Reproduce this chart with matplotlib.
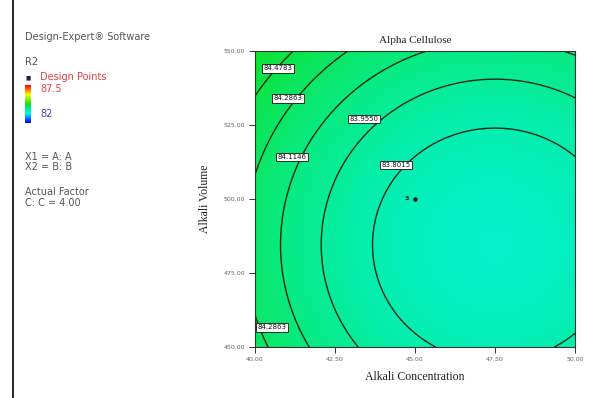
import numpy as np
import matplotlib.pyplot as plt
from matplotlib.colors import LinearSegmentedColormap

# Factor ranges (A: Alkali Concentration, B: Alkali Volume)
a_range = [40.0, 50.0]
b_range = [450.0, 550.0]
x_ticks = [40.0, 42.5, 45.0, 47.5, 50.0]
y_ticks = [450.0, 475.0, 500.0, 525.0, 550.0]

# Fitted quadratic response for alpha cellulose (C held at 4.00)
r_min = 83.65
a_opt, b_opt = 47.5, 484.5
coef_a = 0.010343
coef_b = 9.734e-5

contour_levels = [83.8015, 83.9550, 84.1146, 84.2863, 84.4783]
label_points = [(40.72, 544.1), (41.03, 534.0), (43.41, 527.0),
                (41.16, 514.2), (44.41, 511.5), (40.52, 456.6)]

design_point = (45.0, 500.0)
design_count = "3"

legend_low, legend_high = 82.0, 87.5

# Design-Expert style blue -> cyan -> green -> yellow -> red
de_cmap = LinearSegmentedColormap.from_list(
    "de", ["#0000ff", "#00f5f0", "#10e020", "#ffff00", "#ff0000"])

A, B = np.meshgrid(np.linspace(*a_range, 300), np.linspace(*b_range, 300))
R = r_min + coef_a * (A - a_opt) ** 2 + coef_b * (B - b_opt) ** 2

fig = plt.figure(figsize=(5.93, 3.98), dpi=100)
ax = fig.add_axes([255 / 593, 51 / 398, 320 / 593, 296 / 398])

ax.imshow(R, origin='lower', aspect='auto', cmap=de_cmap,
          vmin=legend_low, vmax=legend_high,
          extent=[a_range[0], a_range[1], b_range[0], b_range[1]])
cs = ax.contour(A, B, R, levels=contour_levels, colors='#0a2a12', linewidths=1.0)
labels = ax.clabel(cs, fmt='%.4f', fontsize=5, manual=label_points, inline=False)
for t, pos in zip(labels, label_points):
    t.set_position(pos)
    t.set_color('#111111')
    t.set_rotation(0)
    t.set_bbox(dict(boxstyle='square,pad=0.2', fc='white', ec='#111111', lw=0.6))

ax.plot(*design_point, 'o', color='#111111', ms=2.2)
ax.annotate(design_count, design_point, xytext=(-6, 0), textcoords='offset points',
            fontsize=4.5, fontweight='bold', color='#111111', va='center', ha='center')

ax.set_xlim(a_range)
ax.set_ylim(b_range)
ax.set_xticks(x_ticks)
ax.set_yticks(y_ticks)
ax.set_xticklabels([f'{v:.2f}' for v in x_ticks])
ax.set_yticklabels([f'{v:.2f}' for v in y_ticks])
ax.tick_params(direction='out', length=4, width=0.7, labelsize=4.5, colors='#333333',
               labelcolor='#666666', pad=3)
for s in ax.spines.values():
    s.set_color('#333333')
    s.set_linewidth(0.8)

serif = 'Liberation Serif'
ax.set_title('Alpha Cellulose', family=serif, fontsize=8, pad=6, color='#222222')
ax.set_xlabel('Alkali Concentration', family=serif, fontsize=8.5, labelpad=7, color='#222222')
ax.set_ylabel('Alkali Volume', family=serif, fontsize=8.5, labelpad=9, color='#222222')

# Left-hand information panel
grey = '#555555'
fs = 7


def info(px, py, s, color=grey):
    fig.text(px / 593, 1 - py / 398, s, fontsize=fs, color=color, va='center')


info(25, 37, 'Design-Expert® Software')
info(25, 62, 'R2')
fig.text(26 / 593, 1 - 78 / 398, '■', fontsize=4, color='#222244', va='center')
info(40, 77, 'Design Points', '#e04040')
info(40, 89, f'{legend_high:g}', '#e04040')
info(40, 114, f'{legend_low:g}', '#4040c0')

cax = fig.add_axes([25 / 593, 1 - 123 / 398, 6 / 593, 38 / 398])
cax.imshow(np.linspace(0, 1, 100)[:, None], origin='lower', aspect='auto', cmap=de_cmap)
cax.set_xticks([])
cax.set_yticks([])
for s in cax.spines.values():
    s.set_visible(False)

info(25, 157, 'X1 = A: A')
info(25, 167, 'X2 = B: B')
info(25, 192, 'Actual Factor')
info(25, 203, 'C: C = 4.00')

# frame line on the left edge
fig.add_artist(plt.Line2D([13 / 593, 13 / 593], [0, 1], color='black', lw=1.2))

fig.savefig('out.png', dpi=100)
